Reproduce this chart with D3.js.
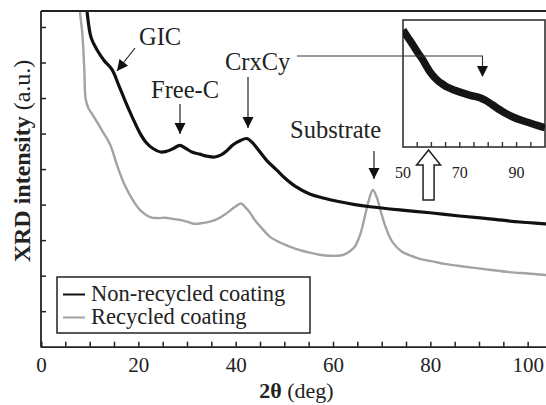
<!DOCTYPE html>
<html><head><meta charset="utf-8">
<script src="https://cdn.jsdelivr.net/npm/d3@7"></script>
<style>
body{margin:0;background:#fff;}
svg{display:block;}
text{font-family:"Liberation Serif","Times New Roman",serif;fill:#222;}
</style></head>
<body><svg id="c" width="546" height="405"></svg>
<script>
// ---- data (2θ in deg, intensity in a.u.) ----
const nonRecycled = [
 [8.8,10.5],[9.45,9.45],[10.3,8.7],[11.5,8.36],[13.0,8.05],[14.6,7.80],[16.0,7.35],[17.2,6.95],[18.8,6.45],[20.3,6.02],
 [21.6,5.75],[23.0,5.58],[24.6,5.48],[25.8,5.50],[27.2,5.58],[28.5,5.67],[29.8,5.58],[31.0,5.48],[32.6,5.42],[34.2,5.36],
 [35.7,5.34],[37.0,5.40],[38.2,5.52],[39.4,5.68],[40.9,5.80],[42.3,5.86],[43.4,5.75],[44.6,5.55],[46.4,5.24],[48.4,4.98],
 [50.1,4.75],[52.2,4.52],[55.2,4.30],[58.2,4.18],[61.4,4.08],[64.5,4.00],[67.6,3.94],[73.7,3.85],[79.9,3.77],[86.0,3.68],
 [92.2,3.60],[98.4,3.51],[103.7,3.46],[106,3.43]
];
const recycled = [
 [7.6,10.5],[8.0,9.45],[8.5,8.80],[8.9,7.80],[9.2,6.95],[9.8,6.70],[10.5,6.55],[11.5,6.33],[12.7,6.05],[14.2,5.69],
 [15.6,5.12],[17.2,4.55],[18.9,4.12],[20.7,3.80],[22.4,3.65],[24.0,3.62],[25.5,3.63],[27.0,3.60],[28.5,3.57],[30.0,3.52],
 [31.6,3.46],[33.2,3.48],[34.7,3.52],[36.3,3.60],[37.8,3.72],[39.0,3.85],[39.8,3.93],[41.1,4.03],[42.0,3.92],[42.8,3.80],
 [44.0,3.55],[45.4,3.33],[47.0,3.10],[49.0,2.94],[51.1,2.82],[53.2,2.72],[55.2,2.65],[57.3,2.59],[59.3,2.56],[61.0,2.56],
 [62.4,2.60],[63.6,2.70],[64.5,2.82],[65.3,3.05],[65.9,3.30],[66.6,3.70],[67.3,4.10],[68.2,4.41],[69.0,4.20],[69.8,3.82],
 [70.6,3.45],[71.4,3.16],[72.3,2.93],[74.1,2.68],[76.0,2.56],[77.8,2.47],[80.5,2.40],[83.0,2.33],[86.0,2.27],[89.1,2.22],
 [92.5,2.16],[96.3,2.10],[100.0,2.06],[103.7,2.02],[106,2.00]
];
// inset: non-recycled, 50–100 deg
const insetData = [
 [50,9.21],[51.5,8.70],[53.5,8.03],[55.3,7.40],[57.0,6.85],[58.3,6.35],[59.5,5.91],[60.8,5.55],[62.0,5.28],[63.8,4.97],
 [65.5,4.72],[68.2,4.47],[71.1,4.25],[74.0,4.05],[77.1,3.88],[79.0,3.68],[80.6,3.46],[82.4,3.18],[84.2,2.91],[86.4,2.62],
 [88.7,2.36],[91.7,2.10],[94.7,1.89],[97.0,1.72],[99.3,1.57],[100,1.52]
];
const xMajorTicks = [0,20,40,60,80,100];
const xMinorTicks = [5,10,15,25,30,35,45,50,55,65,70,75,85,90,95];
const yTicks = [1,2,3,4,5,6,7,8,9];
const insetLabels = [50,70,90];
const insetTicks = [55,60,65,70,75,80,85,90,95];
const legendItems = [{name:"Non-recycled coating", color:"#111"},{name:"Recycled coating", color:"#a3a3a3"}];
const annotations = [
 {text:"GIC", tx:139, ty:45, from:[135,48], to:[117,71]},
 {text:"Free-C", tx:151, ty:98, from:[180,104], to:[180,134]},
 {text:"CrxCy", tx:225, ty:70, from:[248,77], to:[248,128]},
 {text:"Substrate", tx:290, ty:138, from:[374,151], to:[374,179]}
];

// ---- layout ----
const svg = d3.select("#c");
const L=41, T=11, B=346.7, R=552;
const x = d3.scaleLinear().domain([0,105]).range([L,R]);
const y = d3.scaleLinear().domain([0,9.45]).range([B,T]);

svg.append("defs").append("clipPath").attr("id","plotclip")
  .append("rect").attr("x",L).attr("y",T).attr("width",R-L).attr("height",B-T);

const line = d3.line().x(d=>x(d[0])).y(d=>y(d[1])).curve(d3.curveCatmullRom);
const g = svg.append("g").attr("clip-path","url(#plotclip)");
g.append("path").datum(recycled).attr("d",line).attr("fill","none")
  .attr("stroke","#a3a3a3").attr("stroke-width",2.4);
g.append("path").datum(nonRecycled).attr("d",line).attr("fill","none")
  .attr("stroke","#111").attr("stroke-width",3.2);

// axes
const axB = svg.append("g").attr("transform",`translate(0,${B})`)
  .call(d3.axisBottom(x).tickValues(xMajorTicks).tickSize(-5).tickPadding(10.5).tickFormat(d3.format("d")));
svg.append("g").attr("transform",`translate(0,${B})`)
  .call(d3.axisBottom(x).tickValues(xMinorTicks).tickSize(-5).tickFormat(""))
  .select(".domain").remove();
axB.selectAll("text").attr("font-size",21).attr("font-family","Liberation Serif").attr("fill","#222");
const axL = svg.append("g").attr("transform",`translate(${L},0)`)
  .call(d3.axisLeft(y).tickValues(yTicks).tickSize(-5).tickFormat(""));
svg.selectAll(".domain").attr("stroke","#222").attr("stroke-width",1.8);
svg.selectAll(".tick line").attr("stroke","#222").attr("stroke-width",1.5);
axL.select(".domain").remove();
svg.append("line").attr("x1",L).attr("x2",L).attr("y1",T).attr("y2",B).attr("stroke","#222").attr("stroke-width",1.8);
svg.append("line").attr("x1",L).attr("x2",546).attr("y1",T).attr("y2",T).attr("stroke","#222").attr("stroke-width",1.8);

// axis titles
const xt = svg.append("text").attr("x",(L+546)/2+3).attr("y",398).attr("text-anchor","middle").attr("font-size",22);
xt.append("tspan").attr("font-weight","bold").text("2θ");
xt.append("tspan").text(" (deg)");
const yt = svg.append("text").attr("transform",`translate(30,${161}) rotate(-90)`).attr("text-anchor","middle").attr("font-size",24);
yt.append("tspan").attr("font-weight","bold").text("XRD intensity");
yt.append("tspan").text(" (a.u.)");

// legend
const lg = svg.append("g");
lg.append("rect").attr("x",57).attr("y",277).attr("width",253).attr("height",56)
  .attr("fill","#fff").attr("stroke","#222").attr("stroke-width",1.5);
legendItems.forEach((d,i)=>{
  const yy = 294.5 + i*23;
  lg.append("line").attr("x1",63).attr("x2",85).attr("y1",yy).attr("y2",yy).attr("stroke",d.color).attr("stroke-width",2);
  lg.append("text").attr("x",91).attr("y",yy+6).attr("font-size",22.5).text(d.name);
});

// annotations with arrows
function arrowHead(tip, from, len, half){
  const dx=tip[0]-from[0], dy=tip[1]-from[1], n=Math.hypot(dx,dy);
  const ux=dx/n, uy=dy/n, bx=tip[0]-ux*len, by=tip[1]-uy*len;
  return `M${tip[0]},${tip[1]}L${bx-uy*half},${by+ux*half}L${bx+uy*half},${by-ux*half}Z`;
}
annotations.forEach(a=>{
  svg.append("text").attr("x",a.tx).attr("y",a.ty).attr("font-size",24.5).text(a.text);
  svg.append("line").attr("x1",a.from[0]).attr("y1",a.from[1]).attr("x2",a.to[0]).attr("y2",a.to[1])
    .attr("stroke","#222").attr("stroke-width",1.2);
  svg.append("path").attr("d",arrowHead(a.to,a.from,11,5.5)).attr("fill","#111");
});

// inset
const IL=403, IR=545, IT=20, IB=147;
const ix = d3.scaleLinear().domain([50,100]).range([IL,IR]);
const iy = d3.scaleLinear().domain([0,10]).range([IB,IT]);
svg.append("rect").attr("x",IL).attr("y",IT).attr("width",IR-IL).attr("height",IB-IT)
  .attr("fill","#fff").attr("stroke","#333").attr("stroke-width",1.6);
svg.append("defs").append("clipPath").attr("id","insetclip")
  .append("rect").attr("x",IL).attr("y",IT).attr("width",IR-IL).attr("height",IB-IT);
const iline = d3.line().x(d=>ix(d[0])).y(d=>iy(d[1])).curve(d3.curveCatmullRom);
svg.append("path").datum(insetData).attr("d",iline).attr("clip-path","url(#insetclip)")
  .attr("fill","none").attr("stroke","#151515").attr("stroke-width",7.5);
svg.append("g").selectAll("line").data(insetTicks).join("line")
  .attr("x1",d=>ix(d)).attr("x2",d=>ix(d)).attr("y1",IB).attr("y2",IB-5)
  .attr("stroke","#333").attr("stroke-width",1.4);
svg.append("g").selectAll("text").data(insetLabels).join("text")
  .attr("x",d=>ix(d)).attr("y",178).attr("text-anchor","middle")
  .attr("font-family","'Open Sans',sans-serif").attr("font-size",16).text(d=>d);

// CrxCy connector to inset
svg.append("path").attr("d",`M297,56H${ix(78)}V66`).attr("fill","none").attr("stroke","#333").attr("stroke-width",1.1);
svg.append("path").attr("d",arrowHead([ix(78),77],[ix(78),56],11,5.5)).attr("fill","#111");

// hollow arrow
const ax0 = ix(59);
svg.append("path")
  .attr("d",`M${ax0},150L${ax0+12},165H${ax0+5.5}V200H${ax0-5.5}V165H${ax0-12}Z`)
  .attr("fill","#fff").attr("stroke","#222").attr("stroke-width",1.5);
</script></body></html>
